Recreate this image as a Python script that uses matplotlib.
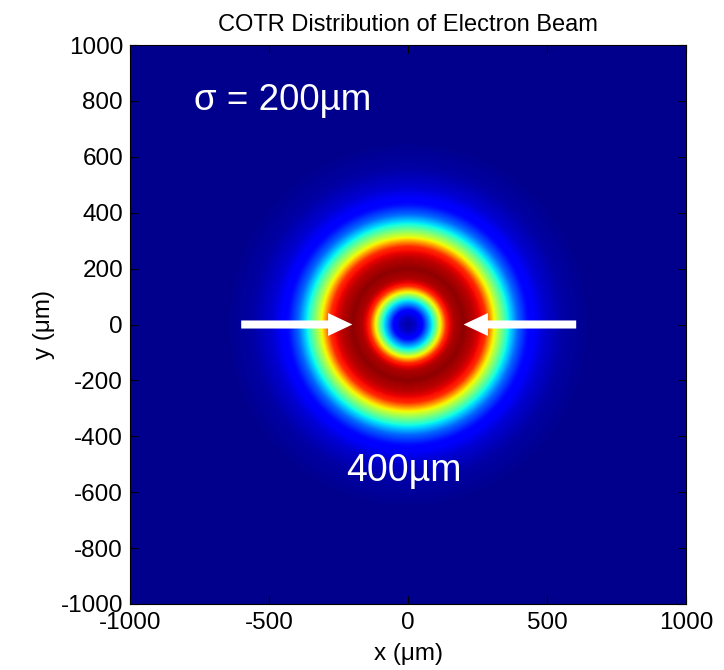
import numpy as np
import matplotlib
matplotlib.use("Agg")
import matplotlib.pyplot as plt
from matplotlib.patches import FancyArrowPatch

plt.rcParams["font.family"] = ["Liberation Sans", "DejaVu Sans"]
plt.rcParams["axes.unicode_minus"] = False

# radial intensity profile (normalised)
radius_um = [0, 25, 54, 72, 90, 114, 138, 165, 200, 240, 280, 315, 360, 395, 430, 490, 560, 650, 1500]
intensity = [0.02, 0.05, 0.125, 0.25, 0.375, 0.625, 0.875, 0.97, 1.0, 0.96, 0.875, 0.625, 0.375, 0.22, 0.125, 0.06, 0.02, 0.0, 0.0]

x_ticks = [-1000, -500, 0, 500, 1000]
y_ticks = [-1000, -800, -600, -400, -200, 0, 200, 400, 600, 800, 1000]

# arrows marking the ring diameter
arrow_tails = [(-600, 0), (605, 0)]
arrow_tips = [(-200, 0), (200, 0)]

grid = np.linspace(-1000, 1000, 501)
X, Y = np.meshgrid(grid, grid)
Z = np.interp(np.hypot(X, Y), radius_um, intensity)

fig = plt.figure(figsize=(7.24, 6.70), dpi=100)
ax = fig.add_axes([130 / 724, 66 / 670, 556 / 724, 559 / 670])

ax.imshow(Z, cmap="jet", vmin=-0.015, vmax=1.015, origin="lower",
          extent=[-1000, 1000, -1000, 1000], aspect="auto", interpolation="bilinear")

for tail, tip in zip(arrow_tails, arrow_tips):
    arr = FancyArrowPatch(tail, tip, arrowstyle="simple,head_width=16.5,head_length=17.5,tail_width=5.8",
                          mutation_scale=1, shrinkA=0, shrinkB=0, color="white", lw=0)
    ax.add_patch(arr)

ax.text(-770, 800, "σ = 200µm", color="white", fontsize=26.5, va="center", ha="left")
ax.text(-15, -525, "400µm", color="white", fontsize=27, va="center", ha="center")

ax.set_xlim(-1000, 1000)
ax.set_ylim(-1000, 1000)
ax.set_xticks(x_ticks)
ax.set_yticks(y_ticks)
ax.tick_params(direction="in", length=5.5, width=0.8, top=True, right=True, labelsize=17.5)
ax.tick_params(axis="x", pad=6)
ax.tick_params(axis="y", pad=5)
for s in ax.spines.values():
    s.set_linewidth(0.8)

ax.set_title("COTR Distribution of Electron Beam", fontsize=17, pad=10)
ax.set_xlabel("x (μm)", fontsize=17.5, labelpad=6)
ax.set_ylabel("y (μm)", fontsize=17.5, labelpad=4)

fig.savefig("out.png", dpi=100)
